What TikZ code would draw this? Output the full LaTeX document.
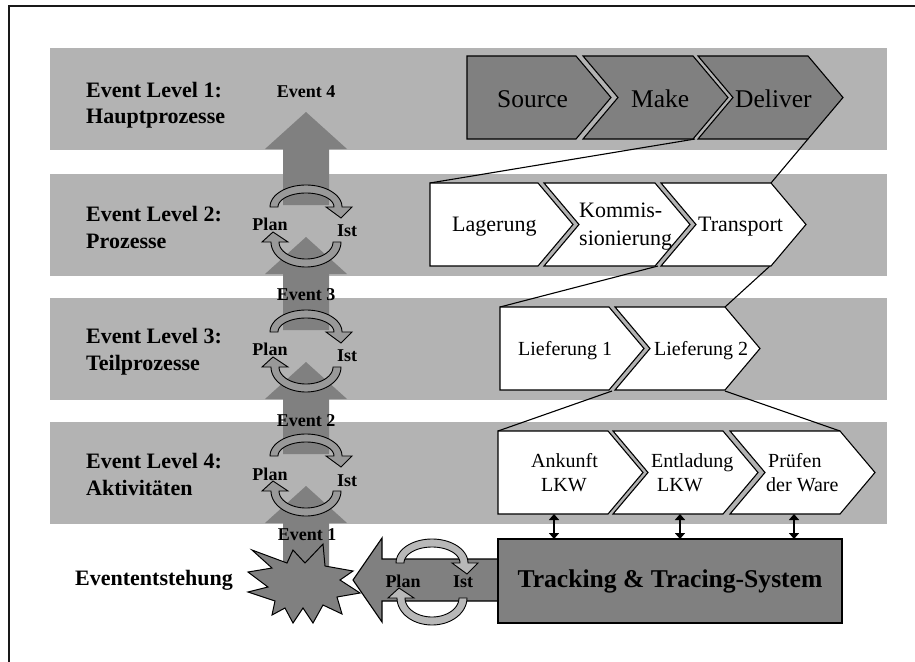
\documentclass[tikz,border=0pt]{standalone}
\usepackage{fontspec}
\setmainfont{Liberation Serif}
\usetikzlibrary{arrows.meta}
\definecolor{cband}{HTML}{B3B3B3}
\definecolor{cdark}{HTML}{808080}
\definecolor{carc}{HTML}{999999}
\definecolor{carclight}{HTML}{B8B8B8}
\newcommand{\mychev}[5]{\draw[#1] (#2,#3) -- ({#2+#4},#3) -- ({#2+#4+35},{#3+41.5}) -- ({#2+#4},{#3+83}) -- (#2,{#3+83}) -- ({#2+#5},{#3+41.5}) -- cycle;}
\newcommand{\uparr}[3]{\fill[cdark] (283,#1) -- (283,#2) -- (265,#2) -- (306,#3) -- (347,#2) -- (329,#2) -- (329,#1) -- cycle;}
\newcommand{\cyctop}[5]{\draw[#1] ({#2-36},#3) -- plot[domain=180:0,samples=40] ({#2+36*cos(\x)},{#3-#4*sin(\x)}) -- ({#2+46},#3) -- ({#2+35},{#3+11}) -- ({#2+20},#3) -- ({#2+28},#3) -- plot[domain=0:180,samples=40] ({#2+28*cos(\x)},{#3-#5*sin(\x)}) -- cycle;}
\newcommand{\cycbot}[5]{\draw[#1] ({#2+27},#3) -- ({#2+35},#3) -- plot[domain=0:180,samples=40] ({#2+35*cos(\x)},{#3+#4*sin(\x)}) -- ({#2-44},#3) -- ({#2-33},{#3-10}) -- ({#2-18},#3) -- ({#2-27},#3) -- plot[domain=180:0,samples=40] ({#2+27*cos(\x)},{#3+#5*sin(\x)}) -- cycle;}
\begin{document}
\begin{tikzpicture}[x=1pt,y=-1pt,
  band/.style={fill=cband},
  chevd/.style={fill=cdark,draw=black,line width=1.1pt},
  chevw/.style={fill=white,draw=black,line width=1.1pt},
  cyc/.style={fill=carc,draw=black,line width=0.9pt},
  cycl/.style={fill=carclight,draw=black,line width=0.9pt},
  zl/.style={draw=black,line width=1.1pt},
  lvl/.style={font=\fontsize{22}{26}\selectfont\bfseries,inner sep=0pt,anchor=base west},
  evt/.style={font=\fontsize{18}{20}\selectfont\bfseries,inner sep=0pt,anchor=base},
  ta/.style={font=\fontsize{25.5}{30}\selectfont,inner sep=0pt,anchor=base west},
  tb/.style={font=\fontsize{22}{26}\selectfont,inner sep=0pt,anchor=base west},
  tc/.style={font=\fontsize{20}{24}\selectfont,inner sep=0pt,anchor=base west},
  dbl/.style={{Triangle[width=10pt,length=6pt]}-{Triangle[width=10pt,length=6pt]},line width=2.4pt},
  starst/.style={fill=cdark,draw=black,line width=1pt,line join=miter}]
\useasboundingbox (0,0) rectangle (915,661);
\fill[white] (0,0) rectangle (915,661);
% frame
\draw[line width=2pt,black!90] (9,670) -- (9,6) -- (925,6);
% bands
\fill[band] (50,48) rectangle (887,150);
\fill[band] (50,174) rectangle (887,276);
\fill[band] (50,298) rectangle (887,400);
\fill[band] (50,422) rectangle (887,524);
% zoom lines
\coordinate (z1a) at (695,139); \coordinate (z1b) at (430,183);
\coordinate (z2a) at (808,139); \coordinate (z2b) at (771,183);
\coordinate (z3a) at (658,266); \coordinate (z3b) at (500,307);
\coordinate (z4a) at (770,266); \coordinate (z4b) at (725,307);
\coordinate (z5a) at (612,391); \coordinate (z5b) at (498,431);
\coordinate (z6a) at (725,391); \coordinate (z6b) at (840,431);
\draw[zl] (z1a) -- (z1b); \draw[zl] (z2a) -- (z2b);
\draw[zl] (z3a) -- (z3b); \draw[zl] (z4a) -- (z4b);
\draw[zl] (z5a) -- (z5b); \draw[zl] (z6a) -- (z6b);
% row 1
\mychev{chevd}{467}{56}{109}{0}
\mychev{chevd}{583}{56}{110}{35}
\mychev{chevd}{698}{56}{110}{35}
\node[ta] (src) at (497,107) {Source};
\node[ta] (mak) at (631,107) {Make};
\node[ta] (del) at (735,107) {Deliver};
% row 2
\mychev{chevw}{430}{183}{108}{0}
\mychev{chevw}{544}{183}{111}{35}
\mychev{chevw}{661}{183}{110}{35}
\node[tb] (lag) at (452,231.7) {Lagerung};
\node[tb] (kom1) at (579,217.3) {Kommis-};
\node[tb] (kom2) at (579,245) {sionierung};
\node[tb] (tra) at (698,231.7) {Transport};
% row 3
\mychev{chevw}{500}{307}{109}{0}
\mychev{chevw}{615}{307}{110}{35}
\node[tc] (lf1) at (518,355) {Lieferung 1};
\node[tc] (lf2) at (654,355) {Lieferung 2};
% row 4
\mychev{chevw}{498}{431}{110}{0}
\mychev{chevw}{613}{431}{110}{35}
\mychev{chevw}{730}{431}{110}{35}
\node[tc] (ank1) at (531,467.3) {Ankunft};
\node[tc] (ank2) at (541,491.7) {LKW};
\node[tc] (ent1) at (651,467.3) {Entladung};
\node[tc] (ent2) at (657,491.7) {LKW};
\node[tc] (pru1) at (768,467.3) {Prüfen};
\node[tc] (pru2) at (766,491.7) {der Ware};
% big up arrows
\uparr{205}{149}{112}
\uparr{330}{274}{237}
\uparr{454}{399}{362}
\uparr{575}{523}{486}
% cycles in bands
\cyctop{cyc}{306}{207}{22}{14}
\cycbot{cyc}{306}{242}{25}{17}
\cyctop{cyc}{306}{332}{22}{14}
\cycbot{cyc}{306}{367}{25}{17}
\cyctop{cyc}{306}{456}{22}{14}
\cycbot{cyc}{306}{491}{25}{17}
\node[evt] (p2) at (270,230) {Plan}; \node[evt] (i2) at (347,236) {Ist};
\node[evt] (p3) at (270,355) {Plan}; \node[evt] (i3) at (347,361) {Ist};
\node[evt] (p4) at (270,480) {Plan}; \node[evt] (i4) at (347,486) {Ist};
% event labels
\node[evt] (e4) at (306,97) {Event 4};
\node[evt] (e3) at (306,300) {Event 3};
\node[evt] (e2) at (306,426) {Event 2};
\node[evt] (e1) at (307,540) {Event 1};
% level labels
\node[lvl] (l1a) at (86,97) {Event Level 1:};
\node[lvl] (l1b) at (86,123) {Hauptprozesse};
\node[lvl] (l2a) at (86,221.7) {Event Level 2:};
\node[lvl] (l2b) at (86,248) {Prozesse};
\node[lvl] (l3a) at (86,343.3) {Event Level 3:};
\node[lvl] (l3b) at (86,370) {Teilprozesse};
\node[lvl] (l4a) at (86,468) {Event Level 4:};
\node[lvl] (l4b) at (86,495) {Aktivitäten};
\node[lvl] (eve) at (75,585) {Evententstehung};
% bottom: left arrow, box
\draw[fill=cdark,draw=black,line width=1.1pt] (500,601) -- (382,601) -- (382,622) -- (353,580) -- (382,538) -- (382,559) -- (500,559);
\node[draw=black,fill=cdark,line width=1.3pt,minimum width=344pt,minimum height=84pt,inner sep=0pt,
      font=\fontsize{25.6}{30}\selectfont\bfseries] (tts) at (670,581) {Tracking \& Tracing-System};
% star
\draw[starst] (252,550) -- (287,563) -- (293,550) -- (305,563) -- (323,544) -- (325,566) -- (353,571) -- (340,580) -- (360,593) -- (337,597) -- (342,614) -- (323,605) -- (313,623) -- (303,608) -- (293,623) -- (285,608) -- (272,615) -- (275,601) -- (248,592) -- (268,587) -- (248,572) -- (272,568) -- cycle;
% bottom cycle
\cyctop{cycl}{432}{563}{24}{16}
\cycbot{cycl}{432}{598}{27}{19}
\node[evt] (p0) at (403,587) {Plan}; \node[evt] (i0) at (463,587) {Ist};
% double arrows
\coordinate (d1a) at (554,514); \coordinate (d1b) at (554,539);
\coordinate (d2a) at (680,514); \coordinate (d2b) at (680,539);
\coordinate (d3a) at (794,514); \coordinate (d3b) at (794,539);
\draw[dbl] (d1a) -- (d1b); \draw[dbl] (d2a) -- (d2b); \draw[dbl] (d3a) -- (d3b);
\end{tikzpicture}
\end{document}
